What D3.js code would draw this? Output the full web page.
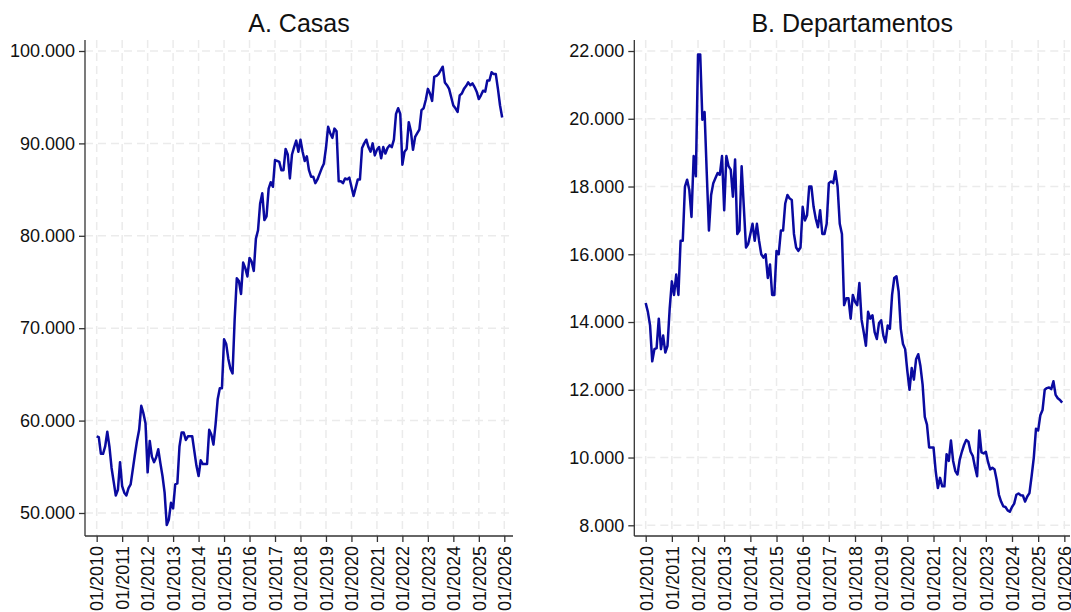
<!DOCTYPE html>
<html>
<head>
<meta charset="utf-8">
<script src="https://cdn.jsdelivr.net/npm/d3@7"></script>
<style>
  body { margin: 0; background: #fff; }
  svg { display: block; font-family: "Liberation Sans", Arial, sans-serif; }
</style>
</head>
<body>
<div id="chart"></div>
<script>
// monthly series, 01/2010 .. 12/2025
const casas = [
  58300, 58200, 56400, 56400, 57200, 58800, 57200, 54900, 53400, 51900, 52500, 55500,
  52900, 52200, 51900, 52700, 53100, 54700, 56300, 57800, 59000, 61600, 60800, 59700,
  54400, 57800, 56100, 55500, 56000, 56900, 55400, 54000, 52200, 48700, 49300, 51100,
  50500, 53100, 53200, 57200, 58700, 58700, 57900, 58300, 58300, 58300, 56700, 55100,
  54000, 55700, 55300, 55300, 55300, 59000, 58500, 57400, 59600, 62300, 63500, 63500,
  68800, 68300, 66700, 65600, 65100, 71000, 75400, 75100, 73700, 77100, 76500, 75600,
  77600, 77200, 76200, 79700, 80600, 83500, 84600, 81700, 82100, 85100, 85800, 85300,
  88200, 88100, 88000, 87100, 87100, 89400, 88800, 86200, 88800, 89600, 90300, 89100,
  90400, 89100, 88100, 88600, 87100, 86400, 86400, 85700, 86100, 86700, 87300, 87800,
  89500, 91800, 91100, 90600, 91600, 91300, 85900, 85900, 85700, 86200, 86100, 86300,
  85300, 84300, 85200, 86100, 86100, 89500, 90000, 90400, 89600, 89100, 90000, 88700,
  89300, 89600, 88400, 89600, 88900, 89500, 89800, 89600, 90400, 93200, 93800, 93200,
  87700, 89100, 89400, 92300, 91300, 89300, 90700, 91100, 91500, 93600, 93800, 94700,
  95900, 95400, 94600, 97200, 97300, 97500, 97900, 98300, 96600, 96300, 95900, 95000,
  94100, 93800, 93400, 95200, 95400, 95900, 96200, 96600, 96300, 96500, 96100, 95600,
  94800, 95200, 95700, 95600, 96800, 96800, 97700, 97500, 97500, 95900, 94100, 92800
];

const departamentos = [
  14560, 14300, 13900, 12840, 13200, 13230, 14100, 13200, 13600, 13100, 13300, 14400,
  15200, 14800, 15400, 14800, 16400, 16400, 18000, 18200, 17900, 17100, 18900, 18300,
  21900, 21900, 19970, 20200, 18400, 16700, 17750, 18100, 18250, 18400, 18350, 18900,
  17300, 18900, 18600, 18500, 17700, 18800, 16600, 16700, 18600, 17400, 16200, 16300,
  16600, 16900, 16400, 16900, 16400, 16000, 15900, 16000, 15300, 15700, 14800, 14800,
  16100, 16000, 16700, 16700, 17500, 17750, 17650, 17600, 16600, 16200, 16100, 16200,
  17400, 17000, 17150, 18000, 18000, 17400, 17050, 16800, 17300, 16600, 16600, 16900,
  18100, 18150, 18100, 18450, 18000, 16900, 16600, 14500, 14700, 14700, 14100, 14800,
  14600, 14500, 15150, 14070, 13700, 13300, 14300, 14100, 14200, 13700, 13500, 13970,
  14050, 13600, 13400, 13900, 13800, 14800, 15300, 15350, 14900, 13800, 13350, 13200,
  12550, 12000, 12640, 12300, 12900, 13050, 12700, 12150, 11200, 10970, 10300, 10300,
  10300, 9600, 9100, 9400, 9150, 9150, 10100, 9900, 10500, 9900, 9600, 9500,
  9930, 10170, 10370, 10520, 10470, 10170, 10050, 9730, 9450, 10800, 10150, 10120,
  10170, 9870, 9650, 9700, 9650, 9330, 8900, 8700, 8560, 8540, 8440, 8400,
  8540, 8640, 8900, 8940, 8890, 8880, 8700, 8850, 8950, 9450, 10000, 10850,
  10800, 11250, 11400, 12000, 12050, 12070, 12020, 12250, 11850, 11750, 11700, 11620
];

const xTickLabels = ["01/2010", "01/2011", "01/2012", "01/2013", "01/2014", "01/2015",
  "01/2016", "01/2017", "01/2018", "01/2019", "01/2020", "01/2021", "01/2022",
  "01/2023", "01/2024", "01/2025", "01/2026"];
const casasTicks = [50000, 60000, 70000, 80000, 90000, 100000];
const deptoTicks = [8000, 10000, 12000, 14000, 16000, 18000, 20000, 22000];

const width = 1071, height = 612;
const lineColor = "#0a0aa0";
const gridColor = "#ebebeb";

const fmt = d3.formatLocale({ decimal: ",", thousands: ".", grouping: [3], currency: ["$", ""] })
  .format(",.0f");

const svg = d3.select("#chart").append("svg")
  .attr("width", width)
  .attr("height", height);

// month index of each tick label (01/yyyy)
const tickMonths = xTickLabels.map(l => (+l.slice(3) - 2010) * 12);

function panel({ title, values, yTicks, left, right, top, bottom, xDomain, yDomain }) {
  const g = svg.append("g");
  const x = d3.scaleLinear().domain(xDomain).range([left, right]);
  const y = d3.scaleLinear().domain(yDomain).range([bottom, top]);

  // grid
  g.append("g").selectAll("line.h").data(yTicks).join("line")
    .attr("x1", left).attr("x2", right)
    .attr("y1", d => y(d)).attr("y2", d => y(d))
    .attr("stroke", gridColor).attr("stroke-width", 1.5)
    .attr("stroke-dasharray", "8,5");
  g.append("g").selectAll("line.v").data(tickMonths).join("line")
    .attr("x1", d => x(d)).attr("x2", d => x(d))
    .attr("y1", top).attr("y2", bottom)
    .attr("stroke", gridColor).attr("stroke-width", 1.5)
    .attr("stroke-dasharray", "8,5");

  // series
  const line = d3.line().x((d, i) => x(i)).y(d => y(d));
  g.append("path").datum(values)
    .attr("fill", "none")
    .attr("stroke", lineColor)
    .attr("stroke-width", 2.5)
    .attr("stroke-linejoin", "round")
    .attr("d", line);

  // y axis
  const yAxis = g.append("g").attr("transform", `translate(${left},0)`)
    .call(d3.axisLeft(y).tickValues(yTicks).tickFormat(fmt).tickSize(6).tickPadding(4));
  yAxis.select(".domain").attr("d", `M0,${top}V${bottom}`).attr("stroke", "#333").attr("stroke-width", 1.3);
  yAxis.selectAll(".tick line").attr("stroke", "#333").attr("stroke-width", 1.3);
  yAxis.selectAll("text").attr("font-size", 18).attr("fill", "#111")
    .attr("font-family", "'Liberation Sans', Arial, sans-serif");

  // x axis
  const xAxis = g.append("g").attr("transform", `translate(0,${bottom})`)
    .call(d3.axisBottom(x).tickValues(tickMonths).tickFormat((d, i) => xTickLabels[i]).tickSize(6));
  xAxis.select(".domain").attr("d", `M${left},0H${right}`).attr("stroke", "#333").attr("stroke-width", 1.3);
  xAxis.selectAll(".tick line").attr("stroke", "#333").attr("stroke-width", 1.3);
  xAxis.selectAll("text")
    .attr("font-size", 18).attr("fill", "#111")
    .attr("font-family", "'Liberation Sans', Arial, sans-serif")
    .attr("transform", "rotate(-90)")
    .attr("text-anchor", "end")
    .attr("x", -10).attr("y", 0).attr("dy", "0.35em");

  // title
  g.append("text")
    .attr("x", (left + right) / 2).attr("y", 32)
    .attr("text-anchor", "middle")
    .attr("font-size", 25).attr("fill", "#111")
    .text(title);
}

panel({
  title: "A. Casas", values: casas, yTicks: casasTicks,
  left: 85, right: 513, top: 40, bottom: 536,
  xDomain: [-5.5, 196.1], yDomain: [47510, 101190]
});

panel({
  title: "B. Departamentos", values: departamentos, yTicks: deptoTicks,
  left: 634.3, right: 1070, top: 40, bottom: 536,
  xDomain: [-5.23, 194.6], yDomain: [7684, 22325]
});
</script>
</body>
</html>
